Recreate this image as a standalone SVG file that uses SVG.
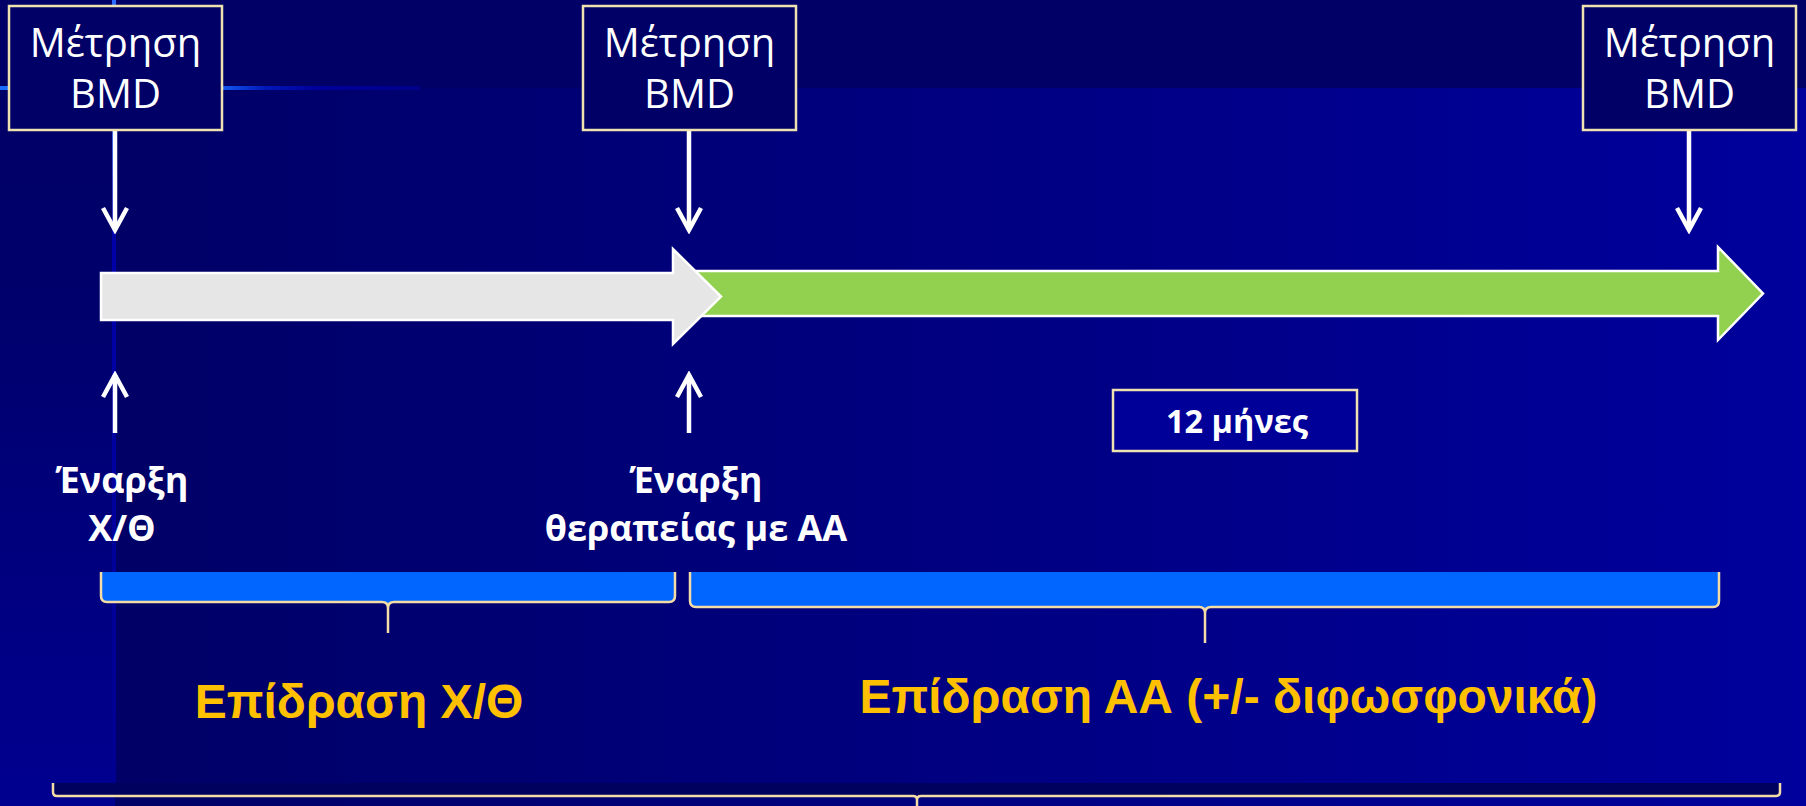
<svg xmlns="http://www.w3.org/2000/svg" width="1806" height="806" viewBox="0 0 1806 806">
<style>
.box{fill:#000066;stroke:#eee3b0;stroke-width:2.5}
.bx{font-family:"Open Sans","Noto Sans","DejaVu Sans",sans-serif;font-size:40px;fill:#fff;text-anchor:middle}
.lbl{font-family:"Open Sans","Noto Sans","DejaVu Sans",sans-serif;font-weight:bold;font-size:36px;fill:#fff;text-anchor:middle}
.yl{font-family:"Liberation Sans",Arial,sans-serif;font-weight:bold;font-size:48px;fill:#ffc000;text-anchor:middle}
.arr{stroke:#fff;stroke-width:4.5;fill:none;marker-end:url(#open)}
.brfill{stroke:none}
.brline{fill:none;stroke:#f3dca5;stroke-width:2.5}
.blk{stroke:#fff;stroke-width:2.5}
</style>
<defs>
<linearGradient id="bgMain" x1="0" y1="0" x2="1" y2="0">
<stop offset="0" stop-color="#000066"/>
<stop offset="1" stop-color="#00009c"/>
</linearGradient>
<linearGradient id="bgLeft" x1="0" y1="0" x2="0" y2="1">
<stop offset="0" stop-color="#000066"/>
<stop offset="0.3" stop-color="#00006c"/>
<stop offset="1" stop-color="#000090"/>
</linearGradient>
<linearGradient id="vline" x1="0" y1="0" x2="0" y2="1">
<stop offset="0" stop-color="#2a6cff"/>
<stop offset="0.12" stop-color="#1050e0"/>
<stop offset="0.3" stop-color="#0000aa"/>
<stop offset="1" stop-color="#000090"/>
</linearGradient>
<linearGradient id="hline" x1="0" y1="0" x2="1" y2="0">
<stop offset="0" stop-color="#1a6bff"/>
<stop offset="0.5" stop-color="#1a6bff"/>
<stop offset="0.63" stop-color="#0018b8"/>
<stop offset="0.75" stop-color="#00009c"/>
<stop offset="1" stop-color="#000088"/>
</linearGradient>
<marker id="open" viewBox="-26 -14 30 28" markerWidth="30" markerHeight="28" refX="0" refY="0" orient="auto" markerUnits="userSpaceOnUse">
<path d="M-22,-12 L0,0 L-22,12" fill="none" stroke="#fff" stroke-width="4.5"/>
</marker>
</defs>

<g id="background">
<rect x="0" y="0" width="1806" height="806" fill="#000066"/>
<rect x="115" y="88" width="1691" height="718" fill="url(#bgMain)"/>
<rect x="0" y="88" width="115" height="718" fill="url(#bgLeft)"/>
<rect x="112" y="0" width="4" height="783" fill="url(#vline)"/>
<rect x="0" y="86" width="420" height="4" fill="url(#hline)"/>
</g>

<g id="timeline-arrows">
<polygon class="blk" fill="#92d050" points="690,271 1718,271 1718,247 1763,293.5 1718,340 1718,316 690,316"/>
<polygon class="blk" fill="#e6e6e6" points="101,273 673,273 673,249 721,296.5 673,344 673,320 101,320"/>
</g>

<g id="connectors">
<path class="arr" d="M115,130 L115,230"/>
<path class="arr" d="M689,130 L689,230"/>
<path class="arr" d="M1689,130 L1689,230"/>
<path class="arr" d="M115,433 L115,375"/>
<path class="arr" d="M689,433 L689,375"/>
</g>

<g id="bmd1">
<rect class="box" x="9" y="6" width="213" height="124"/>
<text class="bx" x="115.5" y="57">Μέτρηση</text>
<text class="bx" x="115.5" y="108">BMD</text>
</g>
<g id="bmd2">
<rect class="box" x="583" y="6" width="213" height="124"/>
<text class="bx" x="689.5" y="57">Μέτρηση</text>
<text class="bx" x="689.5" y="108">BMD</text>
</g>
<g id="bmd3">
<rect class="box" x="1583" y="6" width="213" height="124"/>
<text class="bx" x="1689.5" y="57">Μέτρηση</text>
<text class="bx" x="1689.5" y="108">BMD</text>
</g>

<g id="start-chemo">
<text class="lbl" x="122" y="493">Έναρξη</text>
<text class="lbl" x="122" y="541">Χ/Θ</text>
</g>
<g id="start-aa">
<text class="lbl" x="696" y="493">Έναρξη</text>
<text class="lbl" x="696" y="541">θεραπείας με ΑΑ</text>
</g>

<g id="months">
<rect x="1113" y="390" width="244" height="61" fill="#000099" stroke="#eee3b0" stroke-width="2.5"/>
<text class="lbl" style="font-size:32.5px" x="1237" y="433">12 μήνες</text>
</g>

<g id="brace-chemo">
<path class="brfill" fill="#0066ff" d="M101,572 L101,596 Q101,602 107,602 L382,602 Q388,602 388,608 L388,633 L388,608 Q388,602 394,602 L669,602 Q675,602 675,596 L675,572 Z"/>
<path class="brline" d="M101,572 L101,596 Q101,602 107,602 L382,602 Q388,602 388,608 L388,633 M388,608 Q388,602 394,602 L669,602 Q675,602 675,596 L675,572"/>
<text class="yl" x="359" y="718">Επίδραση Χ/Θ</text>
</g>

<g id="brace-aa">
<path class="brfill" fill="#0066ff" d="M690,572 L690,601 Q690,607 696,607 L1199,607 Q1205,607 1205,613 L1205,643 L1205,613 Q1205,607 1211,607 L1713,607 Q1719,607 1719,601 L1719,572 Z"/>
<path class="brline" d="M690,572 L690,601 Q690,607 696,607 L1199,607 Q1205,607 1205,613 L1205,643 M1205,613 Q1205,607 1211,607 L1713,607 Q1719,607 1719,601 L1719,572"/>
<text class="yl" x="1228.5" y="713">Επίδραση ΑΑ (+/- διφωσφονικά)</text>
</g>

<g id="brace-total">
<path class="brfill" fill="#00005f" d="M53,783 L53,792 Q53,796 57,796 L913,796 Q917,796 917,800 L917,830 L917,800 Q917,796 921,796 L1776,796 Q1780,796 1780,792 L1780,783 Z"/>
<path class="brline" d="M53,783 L53,792 Q53,796 57,796 L913,796 Q917,796 917,800 L917,830 M917,800 Q917,796 921,796 L1776,796 Q1780,796 1780,792 L1780,783"/>
</g>
</svg>
